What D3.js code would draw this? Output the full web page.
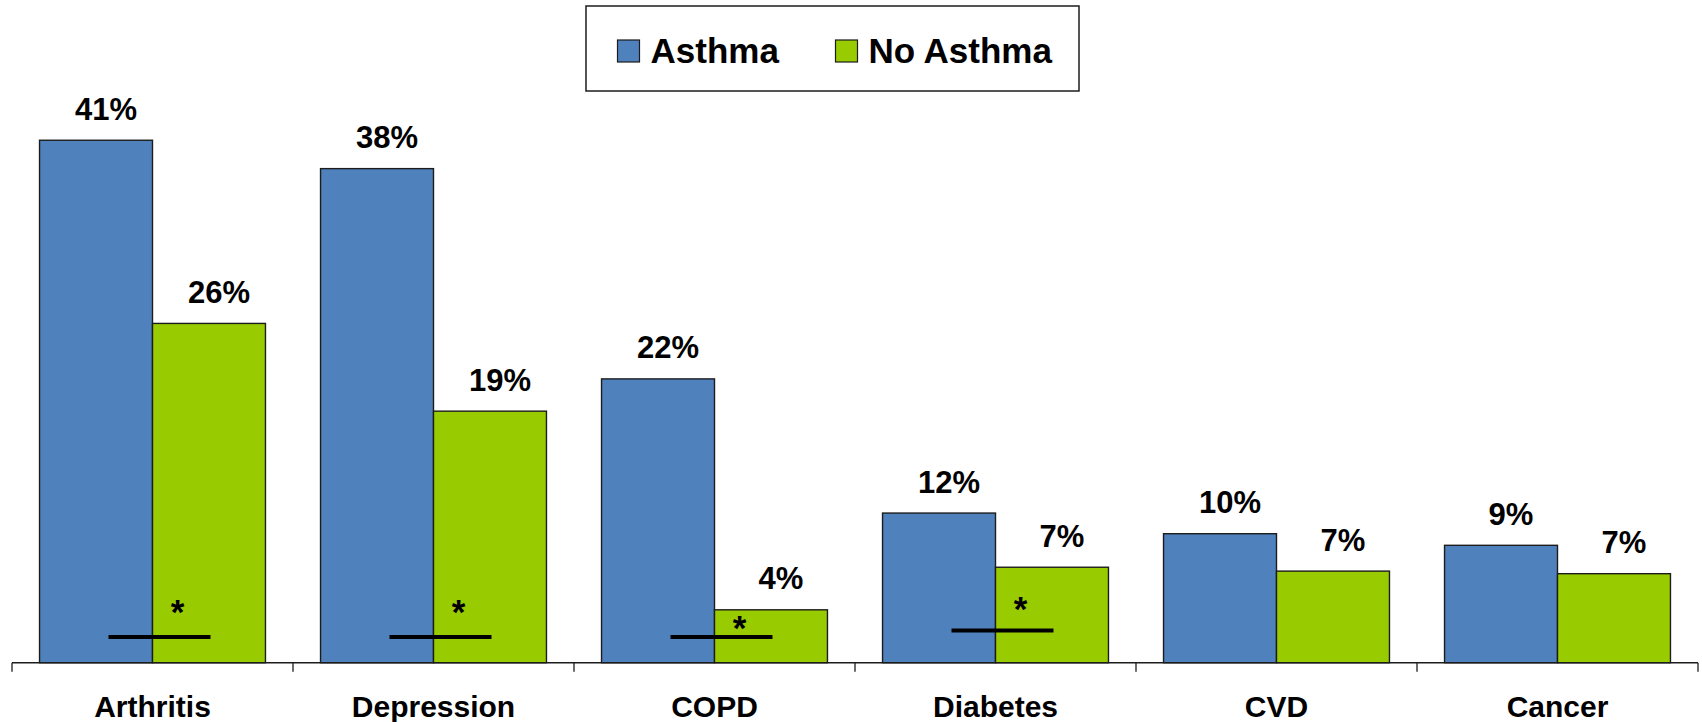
<!DOCTYPE html>
<html>
<head>
<meta charset="utf-8">
<script src="https://cdn.jsdelivr.net/npm/d3@7"></script>
<style>
  html, body { margin: 0; padding: 0; background: #fff; }
  svg { display: block; }
  text { font-family: "Liberation Sans", Arial, sans-serif; font-weight: bold; fill: #000; }
</style>
</head>
<body>
<svg id="chart" width="1702" height="722"></svg>
<script>
// ---- data ----
const categories = ["Arthritis", "Depression", "COPD", "Diabetes", "CVD", "Cancer"];
const seriesNames = ["Asthma", "No Asthma"];
const asthma   = [40.5, 38.3, 22.0, 11.6, 10.0, 9.1];
const noAsthma = [26.3, 19.5, 4.1, 7.4, 7.1, 6.9];
const asthmaLabels   = ["41%", "38%", "22%", "12%", "10%", "9%"];
const noAsthmaLabels = ["26%", "19%", "4%", "7%", "7%", "7%"];
// significance markers: category, level of the bar line and of the asterisk (in % units)
const sigCategories = ["Arthritis", "Depression", "COPD", "Diabetes"];
const sigLineLevel  = [2.0, 2.0, 2.0, 2.5];
const sigStarLevel  = [4.5, 4.5, 3.2, 4.7];

const colors = ["#4F81BD", "#99CC00"];

// ---- layout ----
const svg = d3.select("#chart");
const axisY = 662.7;
const left = 12, right = 1698;

const x0 = d3.scaleBand().domain(categories).range([left, right])
  .paddingInner(0.196).paddingOuter(0.098);
const x1 = d3.scaleBand().domain(seriesNames).range([0, x0.bandwidth()]);
const y = d3.scaleLinear().domain([0, 45]).range([axisY, axisY - 45 * 12.9]);

const rows = categories.map((c, i) => ({
  cat: c,
  vals: [
    { s: seriesNames[0], v: asthma[i], label: asthmaLabels[i], color: colors[0] },
    { s: seriesNames[1], v: noAsthma[i], label: noAsthmaLabels[i], color: colors[1] }
  ]
}));

const groups = svg.selectAll("g.cat").data(rows).join("g")
  .attr("class", "cat")
  .attr("transform", d => `translate(${x0(d.cat)},0)`);

groups.selectAll("rect").data(d => d.vals).join("rect")
  .attr("x", d => x1(d.s))
  .attr("y", d => y(d.v))
  .attr("width", x1.bandwidth())
  .attr("height", d => y(0) - y(d.v))
  .attr("fill", d => d.color)
  .attr("stroke", "#1c1c1c")
  .attr("stroke-width", 1.4);

groups.selectAll("text.val").data(d => d.vals).join("text")
  .attr("class", "val")
  .attr("x", d => x1(d.s) + x1.bandwidth() / 2 + 10)
  .attr("y", d => y(d.v) - 20.5)
  .attr("text-anchor", "middle")
  .attr("font-size", 31)
  .text(d => d.label);

// ---- x axis ----
const axis = svg.append("g");
axis.append("line")
  .attr("x1", left).attr("x2", right)
  .attr("y1", axisY).attr("y2", axisY)
  .attr("stroke", "#1c1c1c").attr("stroke-width", 1.5);
const step = x0.step();
const boundaries = d3.range(categories.length + 1).map(i => left + i * step);
axis.selectAll("line.tick").data(boundaries).join("line")
  .attr("class", "tick")
  .attr("x1", d => d).attr("x2", d => d)
  .attr("y1", axisY).attr("y2", axisY + 9)
  .attr("stroke", "#1c1c1c").attr("stroke-width", 1.3);
axis.selectAll("text.cat").data(categories).join("text")
  .attr("class", "cat")
  .attr("x", d => x0(d) + x0.bandwidth() / 2)
  .attr("y", 717)
  .attr("text-anchor", "middle")
  .attr("font-size", 30)
  .text(d => d);

// ---- significance markers ----
const sig = sigCategories.map((c, i) => ({ cat: c, line: sigLineLevel[i], star: sigStarLevel[i] }));
const sg = svg.selectAll("g.sig").data(sig).join("g").attr("class", "sig");
sg.append("line")
  .attr("x1", d => x0(d.cat) + x1.bandwidth() + 7 - 51)
  .attr("x2", d => x0(d.cat) + x1.bandwidth() + 7 + 51)
  .attr("y1", d => y(d.line)).attr("y2", d => y(d.line))
  .attr("stroke", "#000").attr("stroke-width", 4);
sg.append("text")
  .attr("x", d => x0(d.cat) + x1.bandwidth() + 25)
  .attr("y", d => y(d.star) + 19)
  .attr("text-anchor", "middle")
  .attr("font-size", 35)
  .text("*");

// ---- legend ----
const lg = svg.append("g");
lg.append("rect")
  .attr("x", 586).attr("y", 6).attr("width", 493).attr("height", 85)
  .attr("fill", "#fff").attr("stroke", "#1c1c1c").attr("stroke-width", 1.5);
const legendX = [617.5, 835.5];
const items = lg.selectAll("g.item").data(seriesNames).join("g")
  .attr("class", "item")
  .attr("transform", (d, i) => `translate(${legendX[i]},0)`);
items.append("rect")
  .attr("x", 0).attr("y", 40).attr("width", 22).attr("height", 22)
  .attr("fill", (d, i) => colors[i])
  .attr("stroke", "#1c1c1c").attr("stroke-width", 1.2);
items.append("text")
  .attr("x", 33).attr("y", 63.3)
  .attr("font-size", 35)
  .text(d => d);
</script>
</body>
</html>
